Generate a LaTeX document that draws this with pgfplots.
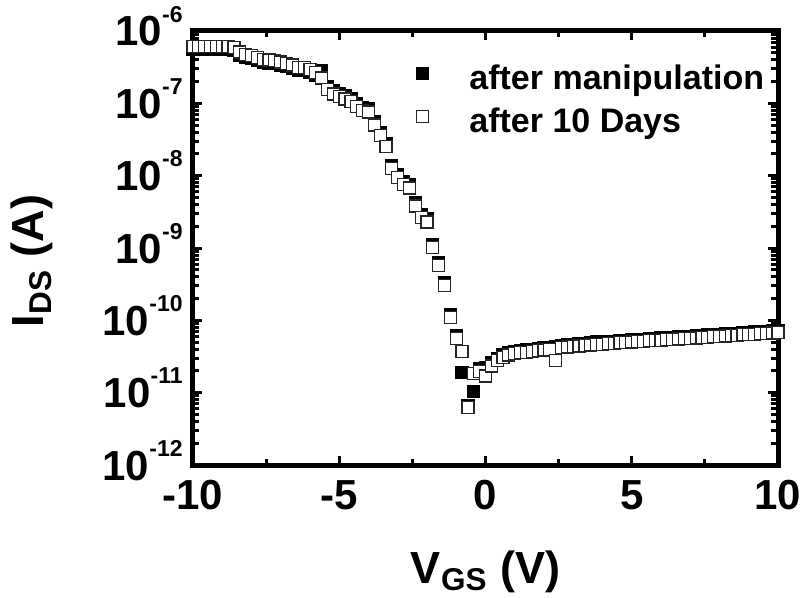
\documentclass[border=0pt]{standalone}
\usepackage{pgfplots}
\pgfplotsset{compat=1.18}
\usepackage{pgfplotstable}
\usepackage{fontspec}
\setmainfont{Liberation Sans}
\newcommand{\dec}[1]{\mbox{10\raisebox{12pt}{\fontsize{11.5}{11.5}\selectfont\bfseries #1}}}

% V_GS (V), I after manipulation (A), I after 10 days (A)
\pgfplotstableread{
V     man      days
-10.0 5.49e-7  6.03e-7
-9.8  5.49e-7  6.03e-7
-9.6  5.49e-7  6.03e-7
-9.4  5.49e-7  6.03e-7
-9.2  5.61e-7  6.17e-7
-9.0  5.61e-7  6.17e-7
-8.8  5.61e-7  6.17e-7
-8.6  5.36e-7  5.89e-7
-8.4  4.67e-7  5.13e-7
-8.2  4.36e-7  4.79e-7
-8.0  4.16e-7  4.57e-7
-7.8  3.89e-7  4.27e-7
-7.6  3.70e-7  4.07e-7
-7.4  3.62e-7  3.98e-7
-7.2  3.54e-7  3.89e-7
-7.0  3.39e-7  3.72e-7
-6.8  3.23e-7  3.55e-7
-6.6  3.08e-7  3.39e-7
-6.4  2.88e-7  3.16e-7
-6.2  2.81e-7  3.09e-7
-6.0  2.68e-7  2.95e-7
-5.8  2.45e-7  2.69e-7
-5.6  2.80e-7  2.24e-7
-5.4  1.71e-7  1.55e-7
-5.2  1.49e-7  1.35e-7
-5.0  1.35e-7  1.23e-7
-4.8  1.27e-7  1.15e-7
-4.6  1.16e-7  1.05e-7
-4.4  1.00e-7  9.12e-8
-4.2  8.73e-8  7.94e-8
-4.0  8.35e-8  7.59e-8
-3.8  5.51e-8  5.01e-8
-3.6  3.99e-8  3.63e-8
-3.4  2.76e-8  2.51e-8
-3.2  1.39e-8  1.26e-8
-3.0  1.03e-8  9.33e-9
-2.8  8.35e-9  7.59e-9
-2.6  7.44e-9  6.76e-9
-2.4  4.18e-9  3.80e-9
-2.2  2.89e-9  2.63e-9
-2.0  2.52e-9  2.29e-9
-1.8  1.12e-9  1.02e-9
-1.6  6.33e-10 5.75e-10
-1.4  3.32e-10 3.02e-10
-1.2  1.21e-10 1.10e-10
-1.0  6.18e-11 5.62e-11
-0.8  1.91e-11 3.72e-11
-0.6  6.60e-12 6.17e-12
-0.4  1.05e-11 1.86e-11
-0.2  2.14e-11 1.95e-11
0.0   2.20e-11 1.70e-11
0.2   2.60e-11 2.34e-11
0.4   3.00e-11 2.82e-11
0.6   3.31e-11 3.09e-11
0.8   3.54e-11 3.31e-11
1.0   3.71e-11 3.47e-11
1.2   3.80e-11 3.55e-11
1.4   3.88e-11 3.63e-11
1.6   3.98e-11 3.72e-11
1.8   4.07e-11 3.80e-11
2.0   4.16e-11 3.89e-11
2.2   4.26e-11 3.98e-11
2.4   4.36e-11 2.82e-11
2.6   4.46e-11 4.17e-11
2.8   4.57e-11 4.27e-11
3.0   4.68e-11 4.37e-11
3.2   4.73e-11 4.42e-11
3.4   4.78e-11 4.47e-11
3.6   4.89e-11 4.57e-11
3.8   5.01e-11 4.68e-11
4.0   5.01e-11 4.68e-11
4.2   5.13e-11 4.79e-11
4.4   5.13e-11 4.79e-11
4.6   5.24e-11 4.90e-11
4.8   5.24e-11 4.90e-11
5.0   5.36e-11 5.01e-11
5.2   5.42e-11 5.07e-11
5.4   5.49e-11 5.13e-11
5.6   5.56e-11 5.20e-11
5.8   5.63e-11 5.26e-11
6.0   5.69e-11 5.32e-11
6.2   5.76e-11 5.38e-11
6.4   5.83e-11 5.45e-11
6.6   5.91e-11 5.52e-11
6.8   5.97e-11 5.58e-11
7.0   6.05e-11 5.65e-11
7.2   6.11e-11 5.71e-11
7.4   6.18e-11 5.78e-11
7.6   6.27e-11 5.86e-11
7.8   6.35e-11 5.93e-11
8.0   6.42e-11 6.00e-11
8.2   6.49e-11 6.07e-11
8.4   6.57e-11 6.14e-11
8.6   6.66e-11 6.22e-11
8.8   6.74e-11 6.30e-11
9.0   6.82e-11 6.37e-11
9.2   6.89e-11 6.44e-11
9.4   6.98e-11 6.52e-11
9.6   7.07e-11 6.61e-11
9.8   7.15e-11 6.68e-11
10.0  7.23e-11 6.76e-11
}\datatable

\begin{document}
\begin{tikzpicture}
\path[use as bounding box] (-96.5pt,-66.5pt) rectangle (305.5pt,232.5pt);
\begin{axis}[
  at={(0pt,0pt)}, anchor=south west,
  scale only axis, width=292.5pt, height=217pt,
  xmin=-10, xmax=10, ymin=1e-12, ymax=1e-6, ymode=log,
  xtick={-10,-5,0,5,10},
  xticklabels={\textbf{-10},\textbf{-5},\textbf{0},\textbf{5},\textbf{10}},
  minor xtick={-7.5,-2.5,2.5,7.5},
  ytick={1e-12,1e-11,1e-10,1e-9,1e-8,1e-7,1e-6},
  yticklabels={\dec{-12},\dec{-11},\dec{-10},\dec{-9},\dec{-8},\dec{-7},\dec{-6}},
  tick align=inside, tick pos=both,
  axis line style={line width=2.5pt},
  every tick/.style={black, line width=1.5pt},
  major tick length=4.75pt, minor tick length=3.25pt,
  tick label style={font=\fontsize{21}{21}\selectfont\bfseries},
  yticklabel style={anchor=base east, inner sep=0pt, xshift=-5pt, yshift=-7.5pt},
  xticklabel style={anchor=north, inner sep=0pt, yshift=-7.5pt},
  xlabel={\textbf{V\textsubscript{GS} (V)}},
  ylabel={\textbf{I\textsubscript{DS} (A)}},
  every axis x label/.style={at={(axis description cs:0.5,0)}, anchor=base, yshift=-59pt,
    font=\fontsize{22.5}{22.5}\selectfont\bfseries},
  every axis y label/.style={at={(axis description cs:-0.255,0.47)}, anchor=base, rotate=90,
    font=\fontsize{22.5}{22.5}\selectfont\bfseries},
  legend style={draw=none, fill=none, at={(axis description cs:0.371,0.93)}, anchor=north west,
    font=\fontsize{17}{17}\selectfont\bfseries, row sep=5.5pt,
    nodes={inner sep=0pt, text height=12pt, text depth=4pt},
    /tikz/every even column/.append style={column sep=0pt}},
  legend cell align=left,
  legend image code/.code={\path[draw=none] (-3pt,0pt) -- (23.5pt,0pt); \draw[#1] plot coordinates {(0pt,4pt)};},
  clip=false,
]
\addplot[only marks, mark=square*, mark size=3pt, mark options={fill=black, draw=black, line width=0.6pt}]
  table[x=V, y=man] {\datatable};
\addlegendentry{after manipulation}
\addplot[only marks, mark=square*, mark size=3pt, mark options={fill=white, draw=black!85, line width=0.6pt}]
  table[x=V, y=days] {\datatable};
\addlegendentry{after 10 Days}
\end{axis}
\end{tikzpicture}
\end{document}
